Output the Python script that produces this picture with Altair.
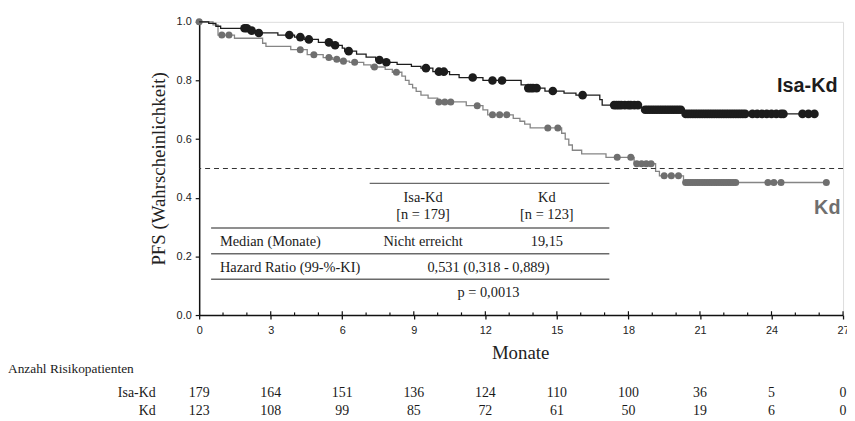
import altair as alt
import pandas as pd

# ---------------- data ----------------
isa_event_t = [0.4, 0.7, 0.9, 2.05, 2.4, 3.3, 4.0, 4.4, 5.0, 5.6, 6.0, 6.1, 6.6, 7.0, 7.4, 7.7,
               8.3, 8.9, 9.3, 9.8, 10.5, 10.9, 11.9, 13.5, 13.7, 14.5, 15.3, 15.8, 16.8, 16.9,
               18.45, 18.6, 20.3]
isa_event_s = [0.995, 0.985, 0.978, 0.97, 0.962, 0.955, 0.948, 0.94, 0.93, 0.92, 0.91, 0.90, 0.89,
               0.88, 0.87, 0.862, 0.855, 0.848, 0.842, 0.83, 0.82, 0.81, 0.80, 0.785, 0.774, 0.764,
               0.757, 0.75, 0.735, 0.716, 0.708, 0.70, 0.686]
isa_cens_t = [1.9, 2.0, 2.2, 2.5, 3.78, 4.24, 4.6, 5.44, 5.7, 6.27, 7.56, 7.85, 9.51, 10.05, 10.26,
              11.47, 12.3, 12.7, 13.8, 13.9, 14.0, 14.15, 14.83, 16.08,
              17.4, 17.5, 17.6, 17.7, 17.85, 18.0, 18.1, 18.25, 18.4,
              18.7, 18.8, 18.9, 19.0, 19.1, 19.2, 19.3, 19.4, 19.5, 19.6, 19.7, 19.8, 19.9, 20.0,
              20.1, 20.2,
              20.4, 20.5, 20.6, 20.7, 20.8, 20.9, 21.0, 21.1, 21.2, 21.3, 21.4, 21.5, 21.6, 21.7,
              21.8, 21.9, 22.0, 22.1, 22.2, 22.3, 22.4, 22.5, 22.6, 22.7, 22.8, 22.9,
              23.2, 23.4, 23.6, 23.8, 24.0, 24.2, 24.4, 24.5, 25.3, 25.55, 25.8]

kd_event_t = [0.58, 0.79, 1.48, 2.66, 2.8, 3.84, 4.53, 5.2, 5.6, 5.9, 6.3, 6.9, 7.2, 7.8, 8.1,
              8.5, 8.65, 8.8, 8.95, 9.1, 9.3, 9.6, 10.0, 11.2, 11.9, 12.1, 13.17, 13.45, 13.65,
              13.88, 15.2, 15.35, 15.5, 15.65, 16.04, 17.06, 18.24, 19.14, 19.3, 20.31]
kd_event_s = [0.99, 0.955, 0.944, 0.927, 0.916, 0.905, 0.888, 0.878, 0.872, 0.866, 0.862, 0.853,
              0.846, 0.838, 0.828, 0.815, 0.80, 0.787, 0.775, 0.763, 0.75, 0.74, 0.727, 0.714,
              0.70, 0.683, 0.671, 0.661, 0.651, 0.638, 0.62, 0.60, 0.58, 0.562, 0.55, 0.538,
              0.516, 0.49, 0.475, 0.452]
kd_cens_t = [0.0, 0.95, 1.25, 4.24, 4.81, 5.44, 5.77, 6.05, 6.52, 7.35, 8.27, 10.05, 10.3, 10.55,
             11.66, 12.3, 12.6, 12.9, 14.62, 15.04, 17.53, 18.1, 18.35, 18.55, 18.75, 18.95,
             19.5, 19.8, 20.1,
             20.4, 20.5, 20.6, 20.7, 20.8, 20.9, 21.0, 21.1, 21.2, 21.3, 21.4, 21.5, 21.6, 21.7,
             21.8, 21.9, 22.0, 22.1, 22.2, 22.3, 22.4, 22.5,
             23.85, 24.1, 24.4, 26.3]

risk_months = [0, 3, 6, 9, 12, 15, 18, 21, 24, 27]
risk_isa = [179, 164, 151, 136, 124, 110, 100, 36, 5, 0]
risk_kd = [123, 108, 99, 85, 72, 61, 50, 19, 6, 0]

x_ticks = [0, 3, 6, 9, 12, 15, 18, 21, 24, 27]
y_ticks = [0.0, 0.1, 0.2, 0.3, 0.4, 0.5, 0.6, 0.7, 0.8, 0.9, 1.0]

label_isa = "Isa-Kd"
label_kd = "Kd"

# inner table content
tbl_header_cols = [9.39, 14.58]
tbl_header1 = ["Isa-Kd", "Kd"]
tbl_header2 = ["[n = 179]", "[n = 123]"]
tbl_median = ["Nicht erreicht", "19,15"]
tbl_hr = "0,531 (0,318 - 0,889)"
tbl_p = "p = 0,0013"

# ---------------- helpers ----------------
def surv_at(t, et, es):
    s = 1.0
    for a, b in zip(et, es):
        if a <= t:
            s = b
    return s


def line_df(et, es, ct):
    xs = [0.0] + list(et) + [max(ct)]
    ys = [1.0] + list(es) + [es[-1]]
    return pd.DataFrame({"month": xs, "surv": ys, "o": range(len(xs))})


def cens_df(ct, et, es):
    return pd.DataFrame({"month": ct, "surv": [surv_at(t, et, es) for t in ct]})


BLACK = "#1c1c1c"
GRAY = "#6f6f6f"
GRAY_LINE = "#858585"
SERIF = "Liberation Serif"
SANS = "Liberation Sans"

xscale = alt.Scale(domain=[0, 27], nice=False, zero=False)
yscale = alt.Scale(domain=[0, 1], nice=False)

X = alt.X("month:Q", scale=xscale,
          axis=alt.Axis(values=x_ticks, title="Monate", labelFont=SANS, labelFontSize=11,
                        labelColor="#222", tickSize=4, tickColor="#111", domainColor="#111",
                        domainWidth=1.5, tickWidth=1.3, grid=False, labelPadding=6,
                        titleFont=SERIF, titleFontSize=19, titleFontWeight="normal",
                        titleColor="#222", titleX=324, titleY=38, titleBaseline="middle",
                        labelFlush=False))
Y = alt.Y("surv:Q", scale=yscale,
          axis=alt.Axis(values=y_ticks, format=".1f", title="PFS (Wahrscheinlichkeit)",
                        labelFont=SANS, labelFontSize=11, labelColor="#222", tickSize=4,
                        tickColor="#111", domainColor="#111", domainWidth=1.5, tickWidth=1.2,
                        grid=False, labelPadding=4, titleFont=SERIF, titleFontSize=19,
                        titleFontWeight="normal", titleColor="#222", titleAngle=270,
                        titleX=-41, titleY=148, titleAlign="center", titleBaseline="middle"))

isa_line = line_df(isa_event_t, isa_event_s, isa_cens_t)
kd_line = line_df(kd_event_t, kd_event_s, kd_cens_t)
isa_c = cens_df(isa_cens_t, isa_event_t, isa_event_s)
kd_c = cens_df(kd_cens_t, kd_event_t, kd_event_s)

base_axes = alt.Chart(kd_line).mark_line(interpolate="step-after", color=GRAY_LINE,
                                          strokeWidth=1.3).encode(x=X, y=Y, order="o:Q")
isa_line_layer = alt.Chart(isa_line).mark_line(interpolate="step-after", color=BLACK,
                                               strokeWidth=1.3).encode(
    x="month:Q", y="surv:Q", order="o:Q")
kd_pts = alt.Chart(kd_c).mark_circle(color=GRAY, opacity=1, size=50).encode(x="month:Q", y="surv:Q")
isa_pts = alt.Chart(isa_c).mark_circle(color=BLACK, opacity=1, size=76).encode(x="month:Q", y="surv:Q")

dash = alt.Chart(pd.DataFrame({"v": [0.5]})).mark_rule(
    strokeDash=[5, 4], color="#333", strokeWidth=1.1).encode(y="v:Q")

# ticks inside the plot at each month (minor) and at major positions
minor = pd.DataFrame({"month": list(range(1, 28)), "y0": [0.0] * 27,
                      "y1": [0.013 if m % 3 == 0 else 0.009 for m in range(1, 28)]})
minor_layer = alt.Chart(minor).mark_rule(color="#111", strokeWidth=1.2).encode(
    x="month:Q", y="y0:Q", y2="y1:Q")

# inner table rules
rules = pd.DataFrame({
    "x": [7.15, 0.5, 0.5, 0.5],
    "x2": [17.2, 17.2, 17.2, 17.2],
    "y": [0.449, 0.297, 0.209, 0.122],
})
rules_layer = alt.Chart(rules).mark_rule(color="#6a6a6a", strokeWidth=1.4).encode(
    x="x:Q", x2="x2:Q", y="y:Q")

center_txt = pd.DataFrame({
    "x": tbl_header_cols + tbl_header_cols + tbl_header_cols + [12.13, 12.13],
    "y": [0.399, 0.399, 0.341, 0.341, 0.25, 0.25, 0.162, 0.074],
    "t": tbl_header1 + tbl_header2 + tbl_median + [tbl_hr, tbl_p],
})
center_layer = alt.Chart(center_txt).mark_text(font=SERIF, fontSize=14.5, color="#1a1a1a",
                                               align="center", baseline="middle").encode(
    x="x:Q", y="y:Q", text="t:N")
left_txt = pd.DataFrame({"x": [0.87, 0.87], "y": [0.25, 0.162],
                         "t": ["Median (Monate)", "Hazard Ratio (99-%-KI)"]})
left_layer = alt.Chart(left_txt).mark_text(font=SERIF, fontSize=14.5, color="#1a1a1a",
                                           align="left", baseline="middle").encode(
    x="x:Q", y="y:Q", text="t:N")

# curve labels
lab_isa = alt.Chart(pd.DataFrame({"x": [25.5], "y": [0.78], "t": [label_isa]})).mark_text(
    font=SANS, fontSize=20, fontWeight="bold", color=BLACK, align="center",
    baseline="middle").encode(x="x:Q", y="y:Q", text="t:N")
lab_kd = alt.Chart(pd.DataFrame({"x": [26.34], "y": [0.365], "t": [label_kd]})).mark_text(
    font=SANS, fontSize=20, fontWeight="bold", color=GRAY, align="center",
    baseline="middle").encode(x="x:Q", y="y:Q", text="t:N")

# risk table
risk_df_isa = pd.DataFrame({"month": risk_months, "n": risk_isa})
risk_df_kd = pd.DataFrame({"month": risk_months, "n": risk_kd})
risk_isa_layer = alt.Chart(risk_df_isa).mark_text(font=SERIF, fontSize=14, color="#1a1a1a",
                                                  baseline="middle").encode(
    x="month:Q", y=alt.value(375), text="n:N")
risk_kd_layer = alt.Chart(risk_df_kd).mark_text(font=SERIF, fontSize=14, color="#1a1a1a",
                                                baseline="middle").encode(
    x="month:Q", y=alt.value(393), text="n:N")
row_labels = alt.Chart(pd.DataFrame({"t": ["Isa-Kd", "Kd"], "yy": [375, 393]})).mark_text(
    font=SERIF, fontSize=14, color="#1a1a1a", align="right", baseline="middle").encode(
    x=alt.value(-44), y=alt.Y("yy:Q", scale=None), text="t:N")
anzahl = alt.Chart(pd.DataFrame({"t": ["Anzahl Risikopatienten"]})).mark_text(
    font=SERIF, fontSize=13.5, color="#1a1a1a", align="left", baseline="middle").encode(
    x=alt.value(-193), y=alt.value(351), text="t:N")

chart = alt.layer(
    base_axes, dash, minor_layer, rules_layer, center_layer, left_layer,
    kd_pts, isa_line_layer, isa_pts, lab_isa, lab_kd,
    risk_isa_layer, risk_kd_layer, row_labels, anzahl,
).properties(
    width=650, height=296,
    autosize=alt.AutoSizeParams(type="none"),
    padding={"left": 193, "top": 12, "right": 4, "bottom": 105},
).configure_view(stroke=None).configure(background="white")

chart.save("out.html", embed_options={"renderer": "svg", "actions": False})
